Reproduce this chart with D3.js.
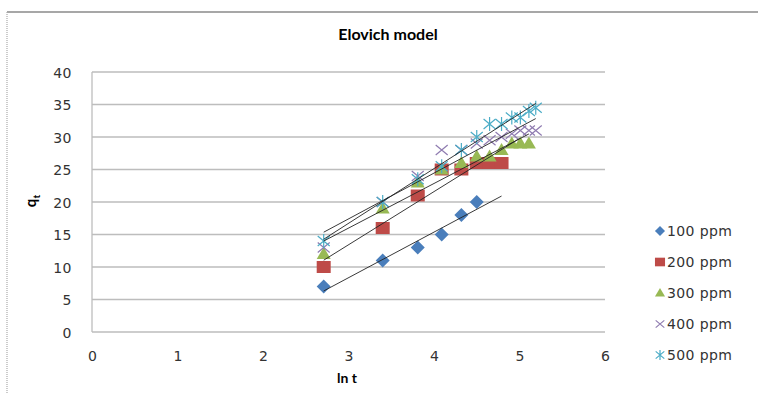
<html>
<head>
<script src="https://d3js.org/d3.v7.min.js"></script>
</head>
<body style="margin:0;background:#fff">
<svg id="chart" width="758" height="394"></svg>
<script>

// values (x = ln t, y = qt)
var lnT = [2.71, 3.40, 3.81, 4.09, 4.32, 4.50, 4.65, 4.79, 4.91, 5.01, 5.11, 5.19];
var series = ["100 ppm", "200 ppm", "300 ppm", "400 ppm", "500 ppm"];
var q100 = [7, 11, 13, 15, 18, 20];
var q200 = [10, 16, 21, 25, 25, 26, 26, 26];
var q300 = [12, 19, 23, 25, 26, 27, 27, 28, 29, 29, 29];
var q400 = [13, 20, 24, 28, 28, 29, 29.5, 30, 30.5, 31, 31, 31];
var q500 = [14, 20, 23.5, 25.5, 28, 30, 32, 32, 33, 33, 34, 34.5];
var trendEnd = [4.79, 5.0, 5.11, 5.19, 5.19];
var xTicks = [0, 1, 2, 3, 4, 5, 6];
var yTicks = [0, 5, 10, 15, 20, 25, 30, 35, 40];

var colors = ["#4a7ebb", "#be4b48", "#98b954", "#8f7bb0", "#4bacc6"];
var shapes = ["diamond", "square", "triangle", "cross", "star"];
var allQ = [q100, q200, q300, q400, q500];

var svg = d3.select("#chart");

// chart frame
svg.append("line").attr("x1", 7).attr("y1", 12).attr("x2", 758).attr("y2", 12)
  .style("stroke", "#8a8a8a").style("stroke-width", 1.5);
svg.append("line").attr("x1", 7).attr("y1", 12).attr("x2", 7).attr("y2", 394)
  .style("stroke", "#aaa").style("stroke-width", 1.2).style("stroke-dasharray", "1,1");

var x = d3.scaleLinear().domain([0, 6]).range([92, 605]);
var y = d3.scaleLinear().domain([0, 40]).range([332, 72]);

// gridlines
svg.append("g").selectAll("line").data(yTicks).enter().append("line")
  .attr("x1", x(0)).attr("x2", x(6))
  .attr("y1", function(d) { return y(d); })
  .attr("y2", function(d) { return y(d); })
  .style("stroke", "#bdbdbd").style("stroke-width", 1.3);
svg.append("line").attr("x1", x(0)).attr("x2", x(0)).attr("y1", y(0)).attr("y2", y(40))
  .style("stroke", "#bdbdbd").style("stroke-width", 1.3);

var tickFont = "DejaVu Sans, Verdana, sans-serif";

var yAxis = d3.axisLeft(y).tickValues(yTicks).tickSize(0).tickPadding(20);
svg.append("g").attr("transform", "translate(" + x(0) + ",0)").call(yAxis)
  .call(function(g) { g.select(".domain").remove(); })
  .selectAll("text").style("font-family", tickFont).style("font-size", "14px")
  .style("letter-spacing", "0.5px").attr("fill", "#333").attr("dy", "0.36em");

var xAxis = d3.axisBottom(x).tickValues(xTicks).tickFormat(d3.format("d")).tickSize(0).tickPadding(19);
svg.append("g").attr("transform", "translate(0," + y(0) + ")").call(xAxis)
  .call(function(g) { g.select(".domain").remove(); })
  .selectAll("text").style("font-family", tickFont).style("font-size", "14px")
  .attr("fill", "#333");

// titles
svg.append("text").attr("x", 388).attr("y", 40).attr("text-anchor", "middle")
  .style("font-family", "Lato, sans-serif").style("font-weight", "bold").style("font-size", "16px")
  .text("Elovich model");
svg.append("text").attr("x", 347).attr("y", 383).attr("text-anchor", "middle")
  .style("font-family", "Lato, sans-serif").style("font-weight", "bold").style("font-size", "14px")
  .text("ln t");
var yl = svg.append("text").attr("transform", "translate(36,201) rotate(-90)")
  .attr("text-anchor", "middle")
  .style("font-family", "Lato, sans-serif").style("font-weight", "bold").style("font-size", "15px");
yl.append("tspan").text("q");
yl.append("tspan").attr("dy", 4).style("font-size", "10px").text("t");

// markers
function drawMarker(g, shape, color, cx, cy, k) {
  var t = "translate(" + cx + "," + cy + ") scale(" + k + ")";
  if (shape == "diamond") {
    g.append("path").attr("d", "M0,-7L7,0L0,7L-7,0Z").attr("transform", t).attr("fill", color);
  } else if (shape == "square") {
    g.append("path").attr("d", "M-7,-6H7V6H-7Z").attr("transform", t).attr("fill", color);
  } else if (shape == "triangle") {
    g.append("path").attr("d", "M0,-7L7,5L-7,5Z").attr("transform", t).attr("fill", color);
  } else if (shape == "cross") {
    g.append("path").attr("d", "M-6,-5L6,5M-6,5L6,-5").attr("transform", t)
      .style("stroke", color).style("stroke-width", 1.2 / k).attr("fill", "none");
  } else {
    g.append("path").attr("d", "M-6,-5L6,5M-6,5L6,-5M0,-7L0,7").attr("transform", t)
      .style("stroke", color).style("stroke-width", 1.2 / k).attr("fill", "none");
  }
}

var pts = svg.append("g");
allQ.forEach(function(qs, i) {
  qs.forEach(function(v, j) {
    drawMarker(pts, shapes[i], colors[i], x(lnT[j]), y(v), 1);
  });
});

// linear trend lines
var trends = svg.append("g");
allQ.forEach(function(qs, i) {
  var xs = lnT.slice(0, qs.length);
  var mx = d3.mean(xs), my = d3.mean(qs);
  var sxy = d3.sum(xs, function(d, k) { return (d - mx) * (qs[k] - my); });
  var sxx = d3.sum(xs, function(d) { return (d - mx) * (d - mx); });
  var b = sxy / sxx, a = my - b * mx;
  trends.append("line")
    .attr("x1", x(xs[0])).attr("y1", y(a + b * xs[0]))
    .attr("x2", x(trendEnd[i])).attr("y2", y(a + b * trendEnd[i]))
    .style("stroke", "#222").style("stroke-width", 0.9);
});

// legend
var leg = svg.append("g");
series.forEach(function(s, i) {
  var ly = 236 + i * 31;
  drawMarker(leg, shapes[i], colors[i], 660, ly - 5, 0.72);
  leg.append("text").attr("x", 667).attr("y", ly).text(s)
    .style("font-family", tickFont).style("font-size", "14px").style("letter-spacing", "0.4px")
    .attr("fill", "#333");
});

</script>
</body>
</html>
